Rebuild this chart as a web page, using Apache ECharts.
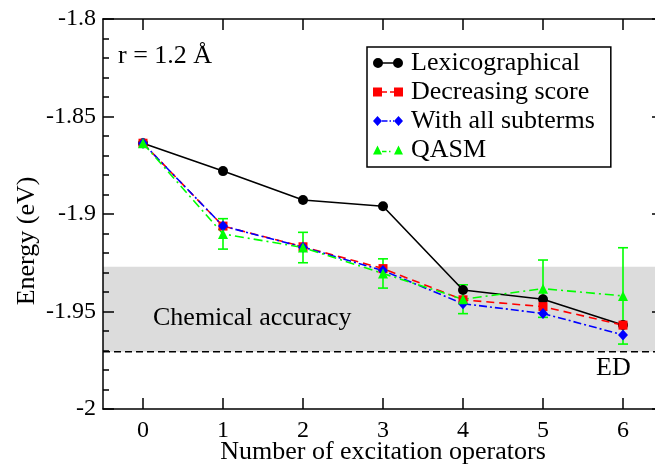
<!DOCTYPE html>
<html>
<head>
<meta charset="utf-8">
<script src="https://cdn.jsdelivr.net/npm/echarts@6/dist/echarts.min.js"></script>
<style>html,body{margin:0;padding:0;background:#fff}#c{width:655px;height:464px}</style>
</head>
<body>
<div id="c"></div>
<script>
// ---- data ----
var operators = [0, 1, 2, 3, 4, 5, 6];
var xTickValues = [0, 1, 2, 3, 4, 5, 6];
var lexicographical = [-1.8637, -1.8780, -1.8928, -1.8960, -1.9390, -1.9437, -1.9569];
var decreasingScore = [-1.8637, -1.9062, -1.9168, -1.9280, -1.9440, -1.9475, -1.9570];
var withAllSubterms = [-1.8637, -1.9062, -1.9170, -1.9290, -1.9460, -1.9510, -1.9620];
var qasm = [-1.8637, -1.9102, -1.9172, -1.9305, -1.9437, -1.9383, -1.9420];
var qasmError = [0, 0.0078, 0.0078, 0.0075, 0.0074, 0.0147, 0.0247];
var edEnergy = -1.9706;
var chemAccuracyTop = -1.9271;
var seriesNames = ['Lexicographical', 'Decreasing score', 'With all subterms', 'QASM'];

var FONT = "'Liberation Serif', 'Times New Roman', Times, serif";
function pairs(vals) { return vals.map(function (v, i) { return [operators[i], v]; }); }

var iconLex = 'path://M0,5 a5,5 0 1,1 10,0 a5,5 0 1,1 -10,0 Z M20,5 a5,5 0 1,1 10,0 a5,5 0 1,1 -10,0 Z M5,4.2 L25,4.2 L25,5.8 L5,5.8 Z';
var iconDec = 'path://M0,0.5 L9,0.5 L9,9.5 L0,9.5 Z M21,0.5 L30,0.5 L30,9.5 L21,9.5 Z M9,4.2 L14,4.2 L14,5.8 L9,5.8 Z M17,4.2 L21,4.2 L21,5.8 L17,5.8 Z';
var iconSub = 'path://M0,5 L4.5,0 L9,5 L4.5,10 Z M21,5 L25.5,0 L30,5 L25.5,10 Z M9,4.2 L14.5,4.2 L14.5,5.8 L9,5.8 Z M16.5,4.2 L18,4.2 L18,5.8 L16.5,5.8 Z M20,4.2 L21,4.2 L21,5.8 L20,5.8 Z';
var iconQ = 'path://M0,10 L4.5,1 L9,10 Z M21,10 L25.5,1 L30,10 Z M9,6.2 L13.5,6.2 L13.5,7.8 L9,7.8 Z M16,6.2 L17.5,6.2 L17.5,7.8 L16,7.8 Z';

var chart = echarts.init(document.getElementById('c'), null, {renderer: 'canvas'});

var axisLineStyle = {color: '#000', width: 1.5};
var textFont = '26px ' + FONT;
var option = {
  animation: false,
  backgroundColor: '#fff',
  grid: {left: 103, top: 19, width: 560, height: 390, containLabel: false, outerBoundsMode: 'none'},
  xAxis: [{
    type: 'value', min: -0.5, max: 6.5, position: 'bottom', z: 3,
    axisLine: {show: true, onZero: false, lineStyle: axisLineStyle},
    axisTick: {show: true, inside: true, length: 11, customValues: xTickValues, lineStyle: axisLineStyle},
    axisLabel: {show: true, customValues: xTickValues, margin: 10, color: '#000', fontFamily: FONT, fontSize: 24},
    splitLine: {show: false},
    name: 'Number of excitation operators', nameLocation: 'middle', nameGap: 30, nameMoveOverlap: false,
    nameTextStyle: {color: '#000', fontFamily: FONT, fontSize: 26}
  }, {
    type: 'value', min: -0.5, max: 6.5, position: 'top', z: 3,
    axisLine: {show: true, onZero: false, lineStyle: axisLineStyle},
    axisTick: {show: true, inside: true, length: 11, customValues: xTickValues, lineStyle: axisLineStyle},
    axisLabel: {show: false},
    splitLine: {show: false}
  }],
  yAxis: [{
    type: 'value', min: -2, max: -1.8, interval: 0.05, position: 'left', z: 3,
    axisLine: {show: true, onZero: false, lineStyle: axisLineStyle},
    axisTick: {show: true, inside: true, length: 11, lineStyle: axisLineStyle},
    minorTick: {show: true, splitNumber: 5, length: 6, lineStyle: axisLineStyle},
    axisLabel: {color: '#000', fontFamily: FONT, fontSize: 24, margin: 7},
    splitLine: {show: false}
  }, {
    type: 'value', min: -2, max: -1.8, interval: 0.05, position: 'right', z: 3,
    axisLine: {show: true, onZero: false, lineStyle: axisLineStyle},
    axisTick: {show: true, inside: true, length: 11, lineStyle: axisLineStyle},
    minorTick: {show: true, splitNumber: 5, length: 6, lineStyle: axisLineStyle},
    axisLabel: {show: false},
    splitLine: {show: false}
  }],
  legend: {
    show: true, selectedMode: false, orient: 'vertical',
    left: 367, top: 47,
    padding: [3, 16, 4, 6],
    itemGap: 3, itemWidth: 30, itemHeight: 10,
    borderColor: '#000', borderWidth: 1.5, backgroundColor: '#fff',
    itemStyle: {borderWidth: 0},
    textStyle: {color: '#000', fontFamily: FONT, fontSize: 26, lineHeight: 26, padding: [0, 0, 0, 3]},
    data: [
      {name: seriesNames[0], icon: iconLex},
      {name: seriesNames[1], icon: iconDec},
      {name: seriesNames[2], icon: iconSub},
      {name: seriesNames[3], icon: iconQ}
    ]
  },
  graphic: [
    {type: 'text', x: 27, y: 241, rotation: Math.PI / 2,
     style: {text: 'Energy (eV)', fill: '#000', font: textFont, align: 'center', verticalAlign: 'middle'}},
    {type: 'text', x: 118, y: 56, z: 10,
     style: {text: 'r = 1.2 Å', fill: '#000', font: textFont, align: 'left', verticalAlign: 'middle'}},
    {type: 'text', x: 153, y: 318, z: 10,
     style: {text: 'Chemical accuracy', fill: '#000', font: textFont, align: 'left', verticalAlign: 'middle'}},
    {type: 'text', x: 596, y: 368, z: 10,
     style: {text: 'ED', fill: '#000', font: textFont, align: 'left', verticalAlign: 'middle'}}
  ],
  series: [
    {
      name: '_band', type: 'custom', z: 1, silent: true,
      data: [[edEnergy, chemAccuracyTop]],
      encode: {y: [0, 1]},
      renderItem: function (params, api) {
        var cs = params.coordSys;
        var low = api.value(0), high = api.value(1);
        var yTop = api.coord([0, high])[1];
        var yBot = api.coord([0, low])[1];
        return {type: 'group', children: [
          {type: 'rect', shape: {x: cs.x, y: yTop, width: cs.width, height: yBot - yTop}, style: {fill: '#dcdcdc'}},
          {type: 'line', shape: {x1: cs.x, y1: yBot, x2: cs.x + cs.width, y2: yBot},
           style: {stroke: '#000', lineWidth: 1.5, lineDash: [7, 4]}}
        ]};
      }
    },
    {
      name: seriesNames[0], type: 'line', z: 2, data: pairs(lexicographical),
      symbol: 'circle', symbolSize: 10,
      itemStyle: {color: '#000', borderWidth: 0},
      lineStyle: {color: '#000', width: 1.6, type: 'solid'}
    },
    {
      name: seriesNames[1], type: 'line', z: 2, data: pairs(decreasingScore),
      symbol: 'rect', symbolSize: 9,
      itemStyle: {color: '#ff0000', borderWidth: 0},
      lineStyle: {color: '#ff0000', width: 1.6, type: [8, 5]}
    },
    {
      name: seriesNames[2], type: 'line', z: 2, data: pairs(withAllSubterms),
      symbol: 'diamond', symbolSize: [10, 11],
      itemStyle: {color: '#0000ff', borderWidth: 0},
      lineStyle: {color: '#0000ff', width: 1.6, type: [8, 3, 2, 3]}
    },
    {
      name: seriesNames[3], type: 'line', z: 2, data: pairs(qasm),
      symbol: 'triangle', symbolSize: 10,
      itemStyle: {color: '#00ff00', borderWidth: 0},
      lineStyle: {color: '#00ff00', width: 1.6, type: [9, 4, 2, 4]}
    },
    {
      name: '_qasmErr', type: 'custom', z: 2, silent: true,
      data: qasm.map(function (v, i) { return [operators[i], v, qasmError[i]]; }),
      encode: {x: 0, y: 1},
      renderItem: function (params, api) {
        var x = api.value(0), y = api.value(1), e = api.value(2);
        if (!e) return {type: 'group', children: []};
        var t = api.coord([x, y + e]), b = api.coord([x, y - e]);
        var hw = 5, st = {stroke: '#00ff00', lineWidth: 1.6};
        return {type: 'group', children: [
          {type: 'line', shape: {x1: t[0], y1: t[1], x2: b[0], y2: b[1]}, style: st},
          {type: 'line', shape: {x1: t[0] - hw, y1: t[1], x2: t[0] + hw, y2: t[1]}, style: st},
          {type: 'line', shape: {x1: b[0] - hw, y1: b[1], x2: b[0] + hw, y2: b[1]}, style: st}
        ]};
      }
    }
  ]
};
chart.setOption(option);
</script>
</body>
</html>
